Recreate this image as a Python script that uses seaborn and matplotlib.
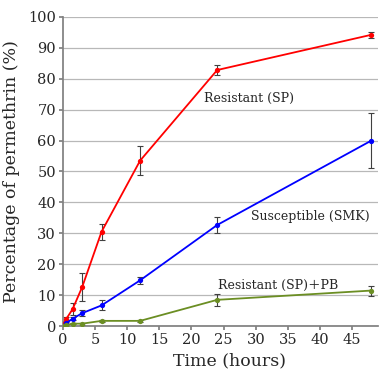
import matplotlib
matplotlib.use("Agg")
import matplotlib.pyplot as plt
import seaborn as sns
import pandas as pd

time_sp = [0, 0.5, 1.5, 3, 6, 12, 24, 48]
pct_sp = [0.5, 2.3, 5.5, 12.7, 30.5, 53.5, 82.8, 94.2]
err_sp = [0.3, 0.5, 2.0, 4.6, 2.6, 4.6, 1.6, 0.9]

time_smk = [0, 0.5, 1.5, 3, 6, 12, 24, 48]
pct_smk = [0.0, 1.0, 2.4, 4.2, 6.7, 14.8, 32.7, 60.0]
err_smk = [0.2, 0.3, 0.5, 1.0, 1.6, 1.1, 2.6, 8.8]

time_pb = [0, 0.5, 1.5, 3, 6, 12, 24, 48]
pct_pb = [0.0, 0.3, 0.8, 0.8, 1.7, 1.7, 8.5, 11.5]
err_pb = [0.1, 0.1, 0.2, 0.3, 0.3, 0.3, 2.0, 1.6]

series_names = ["Resistant (SP)", "Susceptible (SMK)", "Resistant (SP)\uff0bPB"]
colors = ["#ff0000", "#0000ff", "#6b8e23"]

sns.set_theme(style="white")
plt.rcParams["font.family"] = ["DejaVu Serif"]

fig = plt.figure(figsize=(3.84, 3.74), dpi=100)
ax = fig.add_axes([0.164, 0.128, 0.82, 0.827])

for t, p, e, name, c in zip([time_sp, time_smk, time_pb], [pct_sp, pct_smk, pct_pb],
                            [err_sp, err_smk, err_pb], series_names, colors):
    df = pd.DataFrame({"t": t, "p": p})
    sns.lineplot(data=df, x="t", y="p", ax=ax, color=c, lw=1.3, marker="o",
                 markersize=3.8, markeredgewidth=0, zorder=3)
    ax.errorbar(t, p, yerr=e, fmt="none", ecolor="#404040", elinewidth=0.8,
                capsize=2, capthick=0.8, zorder=2)

ax.set_xlim(0, 49)
ax.set_ylim(0, 100)
ax.set_xticks(range(0, 50, 5))
ax.set_yticks(range(0, 101, 10))
ax.grid(axis="y", color="#b8b8b8", lw=0.9)
ax.set_axisbelow(True)
for s in ["top", "right"]:
    ax.spines[s].set_visible(False)
ax.spines["left"].set_color("#808080")
ax.spines["bottom"].set_color("#808080")
ax.tick_params(axis="both", labelsize=10.5, length=3, color="#808080", pad=2, direction="out")
ax.tick_params(axis="y", left=True)
ax.tick_params(axis="x", bottom=True)
ax.set_xlabel("Time (hours)", fontsize=12.5)
ax.set_ylabel("Percentage of permethrin (%)", fontsize=12.5)
ax.xaxis.set_label_coords(0.53, -0.085)
ax.yaxis.set_label_coords(-0.135, 0.5)

ax.text(21.9, 73.5, series_names[0], fontsize=9, va="center", ha="left")
ax.text(29.2, 35.6, series_names[1], fontsize=9, va="center", ha="left")
ax.text(24.2, 13.3, series_names[2], fontsize=9, va="center", ha="left",
        family=["DejaVu Serif", "Noto Sans CJK SC"])

fig.savefig("out.png", dpi=100)
